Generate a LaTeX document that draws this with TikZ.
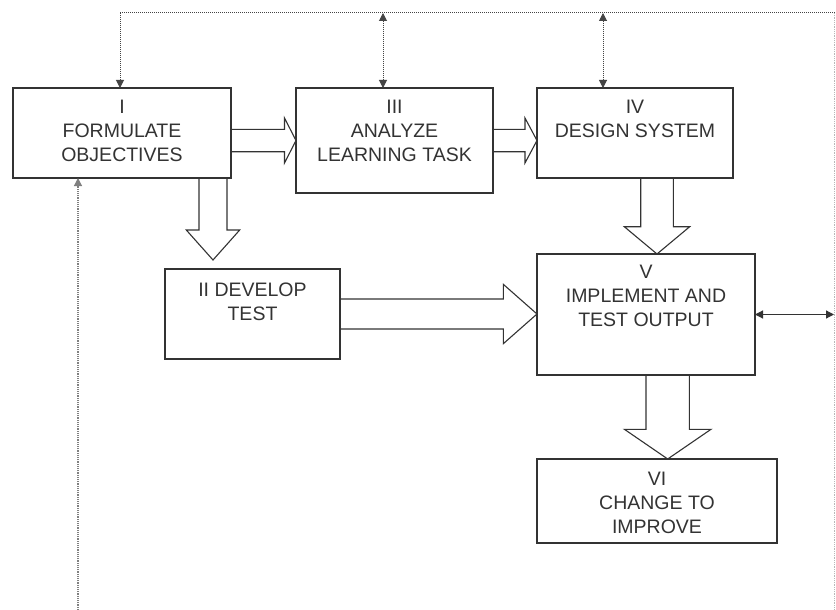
\documentclass[tikz,border=0pt]{standalone}
\usepackage{fontspec}
\setmainfont{Liberation Sans}
\usetikzlibrary{arrows.meta,calc}
\definecolor{ink}{HTML}{333333}
\definecolor{dotc}{HTML}{444444}
\definecolor{faint}{HTML}{B8B8B8}
\newcommand{\blkR}[5]{\draw[blk] let \p1=(#1), \p2=(#2) in
 (\x1,{\y2+#3pt}) -- ({\x2-#5pt},{\y2+#3pt}) -- ({\x2-#5pt},{\y2+#4pt}) -- (\x2,\y2)
 -- ({\x2-#5pt},{\y2-#4pt}) -- ({\x2-#5pt},{\y2-#3pt}) -- (\x1,{\y2-#3pt});}
\newcommand{\blkD}[5]{\draw[blk] let \p1=(#1), \p2=(#2) in
 ({\x2-#3pt},\y1) -- ({\x2-#3pt},{\y2+#5pt}) -- ({\x2-#4pt},{\y2+#5pt}) -- (\x2,\y2)
 -- ({\x2+#4pt},{\y2+#5pt}) -- ({\x2+#3pt},{\y2+#5pt}) -- ({\x2+#3pt},\y1);}
\begin{document}
\begin{tikzpicture}[x=1pt,y=-1pt,
  box/.style={draw=ink, line width=1.2pt, inner sep=0pt, outer sep=0pt},
  lbl/.style={anchor=north, inner sep=0pt, align=center, text=ink,
    font=\fontsize{19.5}{24}\selectfont},
  blk/.style={draw=ink, line width=1.1pt, line join=miter},
  fb/.style={draw=dotc, line width=1pt, densely dotted},
  tipend/.style={-{Triangle[length=8pt,width=8pt]}},
  tipboth/.style={{Triangle[length=8pt,width=8pt]}-{Triangle[length=8pt,width=8pt]}},
]
\useasboundingbox (0,0) rectangle (836,610);
\fill[white] (0,0) rectangle (836,610);

% boxes
\node[box, minimum width=218pt, minimum height=90pt]  (I)   at (122,133)   {};
\node[box, minimum width=197pt, minimum height=105pt] (III) at (394.5,140.5) {};
\node[box, minimum width=196pt, minimum height=90pt]  (IV)  at (635,133)   {};
\node[box, minimum width=175pt, minimum height=90pt]  (II)  at (252.5,314) {};
\node[box, minimum width=218pt, minimum height=121pt] (V)   at (646,314.5) {};
\node[box, minimum width=240pt, minimum height=84pt]  (VI)  at (657,501)   {};

% labels
\node[lbl] (tI)   at ($(I.north)+(0,12)$)   {I\\FORMULATE\\OBJECTIVES};
\node[lbl] (tIII) at ($(III.north)+(0,12)$) {III\\ANALYZE\\LEARNING TASK};
\node[lbl] (tIV)  at ($(IV.north)+(0,12)$)  {IV\\DESIGN SYSTEM};
\node[lbl] (tII)  at ($(II.north)+(0,14)$)  {II DEVELOP\\TEST};
\node[lbl] (tV)   at ($(V.north)+(0,11)$)   {V\\IMPLEMENT AND\\TEST OUTPUT};
\node[lbl] (tVI)  at ($(VI.north)+(0,13)$)  {VI\\CHANGE TO\\IMPROVE};

% block arrows
\coordinate (c1) at (213,0);
\coordinate (c2) at (657,0);
\coordinate (c3) at (667.7,0);
\coordinate (d1t) at ($(II.north -| c1)+(0,-9)$);
\blkR{I.east |- III.west}{III.west}{11.2}{22.5}{11.5}
\blkR{III.east}{IV.west |- III.east}{11.2}{22.5}{12}
\blkR{II.east}{V.west |- II.east}{15}{29.7}{33.7}
\blkD{I.south -| c1}{d1t}{14}{26.7}{30}
\blkD{IV.south -| c2}{V.north -| c2}{16.3}{32.7}{27.3}
\blkD{V.south -| c3}{VI.north -| c3}{21.7}{43.3}{29.7}

% feedback lines
\coordinate (tl) at (120,13);
\coordinate (f3) at (383,13);
\coordinate (f4) at (603,13);
\coordinate (tr) at (834,13);
\coordinate (br) at (834,610);
\coordinate (bl) at (78,610);
\draw[fb] (tl) -- (836,13);
\draw[faint, line width=0.8pt, densely dotted] (tr) -- (br);
\draw[fb, tipend] (tl) -- (tl |- I.north);
\draw[fb, tipboth] (f3) -- (f3 |- III.north);
\draw[fb, tipboth] (f4) -- (f4 |- IV.north);
\draw[draw=gray, line width=1.2pt, densely dotted, tipend] (bl) -- (bl |- I.south);
\draw[ink, line width=1.2pt, tipboth] (V.east) -- (V.east -| tr);
\end{tikzpicture}
\end{document}
